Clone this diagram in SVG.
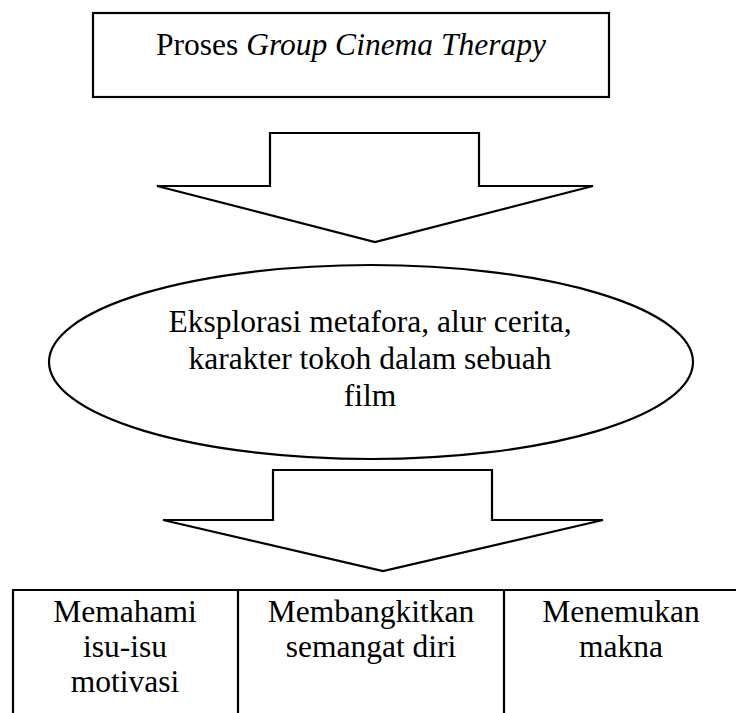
<svg xmlns="http://www.w3.org/2000/svg" width="736" height="713" viewBox="0 0 736 713">
<style>
.s{fill:#fff;stroke:#000;stroke-width:2.2}
text{font-family:'Liberation Serif','Tinos','Times New Roman','DejaVu Serif',serif;fill:#000;text-anchor:middle;font-size:31.5px}
.ln{stroke:#000;stroke-width:2.2;fill:none}
</style>
<rect width="736" height="713" fill="#fff"/>
<g id="box-proses">
<rect class="s" x="93" y="13" width="516" height="84" stroke-width="2.8"/>
<text x="351" y="55">Proses <tspan font-style="italic">Group Cinema Therapy</tspan></text>
</g>
<g id="connectors">
<polygon class="s" points="270,133 479,133 479,186 593,186 375,242 157,186 270,186"/>
<polygon class="s" points="273,470 492,470 492,520 603,520 383,571 163,520 273,520"/>
</g>
<g id="ellipse-eksplorasi">
<ellipse class="s" cx="371" cy="362" rx="322" ry="97"/>
<text x="370" y="332">Eksplorasi metafora, alur cerita,</text>
<text x="370" y="369">karakter tokoh dalam sebuah</text>
<text x="370" y="406">film</text>
</g>
<g id="table">
<path class="ln" d="M13,713 V590 H736 M238,590 V713 M504,590 V713"/>
</g>
<g id="cell-memahami">
<text x="125" y="622">Memahami</text>
<text x="125" y="657">isu-isu</text>
<text x="125" y="692">motivasi</text>
</g>
<g id="cell-membangkitkan">
<text x="371" y="622">Membangkitkan</text>
<text x="371" y="657">semangat diri</text>
</g>
<g id="cell-menemukan">
<text x="621" y="622">Menemukan</text>
<text x="621" y="657">makna</text>
</g>
</svg>
